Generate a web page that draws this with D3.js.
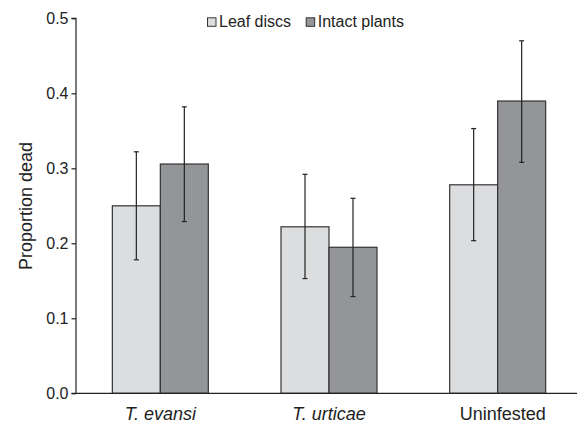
<!DOCTYPE html>
<html>
<head>
<meta charset="utf-8">
<script src="https://cdn.jsdelivr.net/npm/d3@7"></script>
<style>
  html, body { margin: 0; padding: 0; background: #fff; }
  svg { display: block; font-family: "Liberation Sans", Arial, sans-serif; }
</style>
</head>
<body>
<svg id="chart" width="577" height="424"></svg>
<script>
const categories = ["T. evansi", "T. urticae", "Uninfested"];
const italicCats = [true, true, false];
const seriesNames = ["Leaf discs", "Intact plants"];
const leafDiscs = [0.250, 0.222, 0.278];
const leafDiscsLow = [0.178, 0.153, 0.2035];
const leafDiscsHigh = [0.322, 0.292, 0.353];
const intactPlants = [0.3057, 0.1947, 0.3897];
const intactLow = [0.229, 0.129, 0.308];
const intactHigh = [0.382, 0.260, 0.470];
const yTicks = [0.0, 0.1, 0.2, 0.3, 0.4, 0.5];
const colors = ["#dcdddf", "#939598"];

const svg = d3.select("#chart");
const mLeft = 76, mRight = 582, mTop = 18.3, mBottom = 393.3;

const x = d3.scaleBand().domain(categories).range([mLeft, mRight])
  .paddingInner(0.431).paddingOuter(0.2155);
const xs = d3.scaleBand().domain(seriesNames).range([0, x.bandwidth()]);
const y = d3.scaleLinear().domain([0, 0.5]).range([mBottom, mTop]);

const series = [
  { name: seriesNames[0], vals: leafDiscs, lo: leafDiscsLow, hi: leafDiscsHigh, color: colors[0] },
  { name: seriesNames[1], vals: intactPlants, lo: intactLow, hi: intactHigh, color: colors[1] }
];

// bars
series.forEach(s => {
  svg.append("g").selectAll("rect").data(categories).join("rect")
    .attr("x", (c) => x(c) + xs(s.name))
    .attr("y", (c, i) => y(s.vals[i]))
    .attr("width", xs.bandwidth())
    .attr("height", (c, i) => y(0) - y(s.vals[i]))
    .attr("fill", s.color)
    .attr("stroke", "#333")
    .attr("stroke-width", 1.2);
});

// error bars
series.forEach(s => {
  const g = svg.append("g").attr("stroke", "#222").attr("stroke-width", 1.2);
  categories.forEach((c, i) => {
    const cx = x(c) + xs(s.name) + xs.bandwidth() / 2;
    g.append("line").attr("x1", cx).attr("x2", cx).attr("y1", y(s.lo[i])).attr("y2", y(s.hi[i]));
    g.append("line").attr("x1", cx - 2.5).attr("x2", cx + 2.5).attr("y1", y(s.lo[i])).attr("y2", y(s.lo[i]));
    g.append("line").attr("x1", cx - 2.5).attr("x2", cx + 2.5).attr("y1", y(s.hi[i])).attr("y2", y(s.hi[i]));
  });
});

// y axis
const yAxis = d3.axisLeft(y).tickValues(yTicks).tickFormat(d3.format(".1f")).tickSize(4.5).tickPadding(3);
const yg = svg.append("g").attr("transform", `translate(${mLeft},0)`).call(yAxis);
yg.select(".domain").attr("d", `M-4.5,${mTop}H0V${mBottom}`).attr("stroke", "#222").attr("stroke-width", 1.2);
yg.selectAll(".tick line").attr("stroke", "#222").attr("stroke-width", 1.2);
yg.selectAll(".tick text").attr("font-size", 16).attr("fill", "#222")
  .attr("font-family", '"Liberation Sans", Arial, sans-serif');

// x axis
const xAxis = d3.axisBottom(x).tickSize(0).tickPadding(0);
const xg = svg.append("g").attr("transform", `translate(0,${mBottom})`).call(xAxis);
xg.select(".domain").attr("d", `M${mLeft - 4.5},0H${mRight}`).attr("stroke", "#222").attr("stroke-width", 1.2);
xg.selectAll(".tick text")
  .attr("font-size", 18).attr("fill", "#222")
  .attr("font-family", '"Liberation Sans", Arial, sans-serif')
  .attr("dy", null).attr("y", 26.5)
  .attr("dx", (d, i) => italicCats[i] ? 0 : 5)
  .attr("font-style", (d, i) => italicCats[i] ? "italic" : "normal");

// y label
svg.append("text")
  .attr("transform", `translate(31.5,206) rotate(-90)`)
  .attr("text-anchor", "middle")
  .attr("font-size", 18).attr("fill", "#222")
  .text("Proportion dead");

// legend
const legendX = [207, 305.7];
series.forEach((s, i) => {
  svg.append("rect").attr("x", legendX[i] + 0.5).attr("y", 17.8).attr("width", 8.5).attr("height", 8.5)
    .attr("fill", s.color).attr("stroke", "#333").attr("stroke-width", 1);
  svg.append("text").attr("x", legendX[i] + 12).attr("y", 27.3)
    .attr("font-size", 16).attr("fill", "#222").text(s.name);
});
</script>
</body>
</html>
